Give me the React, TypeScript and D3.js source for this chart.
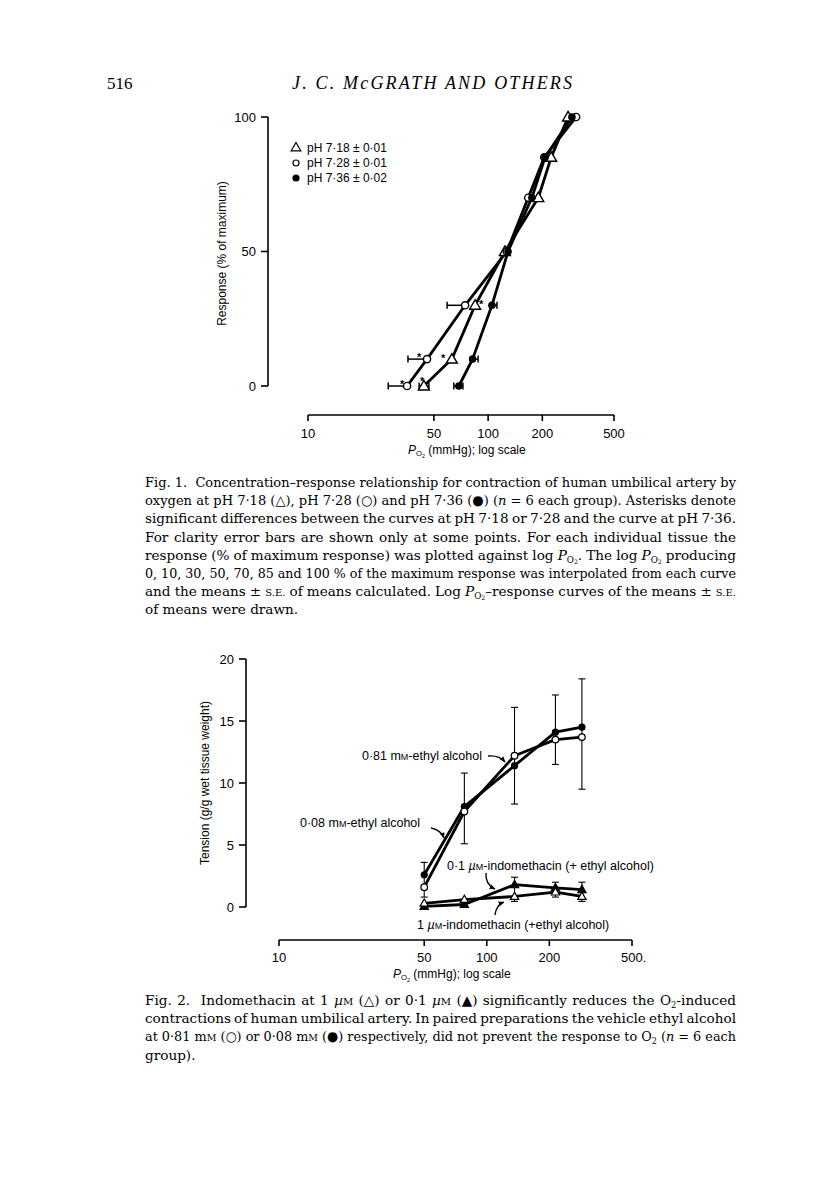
import React, { useLayoutEffect, useRef } from 'react';
import * as d3 from 'd3';

// ---------------- Fig. 1 data ----------------
const RESPONSE_LEVELS = [0, 10, 30, 50, 70, 85, 100];
const PH718_LABEL = 'pH 7·18 ± 0·01';
const PH728_LABEL = 'pH 7·28 ± 0·01';
const PH736_LABEL = 'pH 7·36 ± 0·02';
const PH718_PO2 = [44.0, 62.9, 84.7, 124, 190, 224, 278];
const PH728_PO2 = [35.5, 45.8, 74.5, 127, 167, 205, 308];
const PH736_PO2 = [68.8, 82, 105, 129, 175, 207, 292];
const PH718_ERR_LO: (number | null)[] = [41.4, null, null, null, null, null, null];
const PH718_ERR_HI: (number | null)[] = [46.9, null, null, null, null, null, null];
const PH728_ERR_LO: (number | null)[] = [27.9, 35.9, 59.2, null, null, null, null];
const PH728_ERR_HI: (number | null)[] = [null, null, null, null, null, null, null];
const PH736_ERR_LO: (number | null)[] = [64.5, null, null, null, null, null, null];
const PH736_ERR_HI: (number | null)[] = [72.5, 88, 112, null, null, null, null];
const ASTERISK_PO2 = [33.3, 43.0, 41.4, 56.2, 91.4];
const ASTERISK_RESP = [1.5, 2.6, 11.5, 11.2, 31.2];
const FIG1_Y_TICKS = [0, 50, 100];
const LOG_TICKS = [10, 50, 100, 200, 500];
const FIG1_X_TICK_LABELS = ['10', '50', '100', '200', '500'];

// ---------------- Fig. 2 data ----------------
const FIG2_PO2 = [50, 78, 136, 214, 287];
const ETOH_081 = [1.6, 7.7, 12.2, 13.5, 13.7];
const ETOH_008 = [2.6, 8.1, 11.4, 14.1, 14.5];
const ETOH_ERR_HI = [3.6, 10.8, 16.1, 17.1, 18.4];
const ETOH_ERR_LO = [0.8, 5.1, 8.3, 11.5, 9.5];
const INDO_1 = [0.3, 0.6, 0.85, 1.2, 0.85];
const INDO_01 = [0.05, 0.2, 1.8, 1.55, 1.4];
const INDO_ERR_HI: (number | null)[] = [null, null, 2.4, 2.0, 2.0];
const INDO_ERR_LO: (number | null)[] = [null, null, 0.45, 0.8, 0.45];
const FIG2_Y_TICKS = [0, 5, 10, 15, 20];
const FIG2_X_TICK_LABELS = ['10', '50', '100', '200', '500.'];
// annotation arrow tips in data units [PO2, tension]
const ANNOT_TIP_PO2 = [122.4, 62.2, 109.4, 121];
const ANNOT_TIP_TENSION = [11.7, 5.56, 1.45, 0.4];

const SANS = '"Liberation Sans", Arial, Helvetica, sans-serif';
const SERIF = '"Liberation Serif", "Times New Roman", serif';
const CAP_SERIF = '"DejaVu Serif", "Liberation Serif", serif';
const CAP_FS = 13.6;
const CAP_X = 145;
const CAP_W = 591;

type Seg = { t: string; sh?: number; fs?: number; it?: boolean };
const T = (t: string): Seg => ({ t });
const I = (t: string): Seg => ({ t, it: true });
const SC = (t: string, fs = 10): Seg => ({ t, fs });
const PO2 = (fs: number): Seg[] => [
  { t: 'P', it: true },
  { t: 'O', sh: fs * 0.2, fs: fs * 0.64 },
  { t: '2', sh: fs * 0.3, fs: fs * 0.45 },
];
const O2 = (fs: number): Seg[] => [{ t: 'O' }, { t: '2', sh: fs * 0.2, fs: fs * 0.62 }];

function Segs({ segs }: { segs: Seg[] }) {
  let cur = 0;
  return (
    <>
      {segs.map((s, i) => {
        const sh = s.sh || 0;
        const dy = sh - cur;
        cur = sh;
        return (
          <tspan key={i} dy={dy !== 0 ? dy : undefined} fontSize={s.fs} fontStyle={s.it ? 'italic' : undefined}>
            {s.t}
          </tspan>
        );
      })}
    </>
  );
}

const FIG1_CAPTION: Seg[][] = [
  [T('Fig. 1.  Concentration–response relationship for contraction of human umbilical artery by')],
  [T('oxygen at pH 7·18 (△), pH 7·28 (○) and pH 7·36 (●) ('), I('n'), T(' = 6 each group). Asterisks denote')],
  [T('significant differences between the curves at pH 7·18 or 7·28 and the curve at pH 7·36.')],
  [T('For clarity error bars are shown only at some points. For each individual tissue the')],
  [T('response (% of maximum response) was plotted against log '), ...PO2(CAP_FS), T('. The log '), ...PO2(CAP_FS), T(' producing')],
  [T('0, 10, 30, 50, 70, 85 and 100 % of the maximum response was interpolated from each curve')],
  [T('and the means ± '), SC('S.E.'), T(' of means calculated. Log '), ...PO2(CAP_FS), T('–response curves of the means ± '), SC('S.E.')],
  [T('of means were drawn.')],
];
const FIG2_CAPTION: Seg[][] = [
  [T('Fig. 2.  Indomethacin at 1 '), I('µ'), SC('M'), T(' (△) or 0·1 '), I('µ'), SC('M'), T(' (▲) significantly reduces the '), ...O2(CAP_FS), T('-induced')],
  [T('contractions of human umbilical artery. In paired preparations the vehicle ethyl alcohol')],
  [T('at 0·81 m'), SC('M'), T(' (○) or 0·08 m'), SC('M'), T(' (●) respectively, did not prevent the response to '), ...O2(CAP_FS), T(' ('), I('n'), T(' = 6 each')],
  [T('group).')],
];

const tri = (size: number) => d3.symbol().type(d3.symbolTriangle).size(size)() as string;

export default function App() {
  const W = 816;
  const H = 1181;
  const svgRef = useRef<SVGSVGElement>(null);

  // justify caption lines by word spacing (like the printed page)
  useLayoutEffect(() => {
    if (!svgRef.current) return;
    d3.select(svgRef.current)
      .selectAll<SVGTextElement, unknown>('text.just')
      .each(function () {
        const el = this;
        el.removeAttribute('word-spacing');
        el.removeAttribute('textLength');
        const len = el.getComputedTextLength();
        const spaces = (el.textContent || '').split(' ').length - 1;
        const ws = spaces > 0 ? (CAP_W - len) / spaces : 0;
        if (ws >= -1.2) {
          el.setAttribute('word-spacing', String(ws));
        } else {
          el.setAttribute('textLength', String(CAP_W));
          el.setAttribute('lengthAdjust', 'spacingAndGlyphs');
        }
      });
  }, []);

  // Fig 1 scales
  const x1 = d3.scaleLog().domain([10, 500]).range([308, 614]);
  const y1 = d3.scaleLinear().domain([0, 100]).range([386, 117]);
  const axisX1 = 268;
  const axisY1 = 415;

  // Fig 2 scales
  const x2 = d3.scaleLog().domain([10, 500]).range([279, 632]);
  const y2 = d3.scaleLinear().domain([0, 20]).range([907, 659]);
  const axisX2 = 246;
  const axisY2 = 940;

  const line1 = d3
    .line<[number, number]>()
    .x((d) => x1(d[0]))
    .y((d) => y1(d[1]));
  const line2 = d3
    .line<[number, number]>()
    .x((d) => x2(d[0]))
    .y((d) => y2(d[1]));

  const fig1Series = [
    { po2: PH718_PO2, lo: PH718_ERR_LO, hi: PH718_ERR_HI, kind: 'tri' },
    { po2: PH728_PO2, lo: PH728_ERR_LO, hi: PH728_ERR_HI, kind: 'open' },
    { po2: PH736_PO2, lo: PH736_ERR_LO, hi: PH736_ERR_HI, kind: 'filled' },
  ];

  const triPath1 = tri(52);
  const triPath2 = tri(30);

  const marker1 = (kind: string, cx: number, cy: number, key: string) => {
    if (kind === 'tri')
      return <path key={key} d={triPath1} transform={`translate(${cx},${cy + 0.8})`} fill="#fff" stroke="#000" strokeWidth={1.4} />;
    if (kind === 'open') return <circle key={key} cx={cx} cy={cy} r={3.6} fill="#fff" stroke="#000" strokeWidth={1.4} />;
    return <circle key={key} cx={cx} cy={cy} r={3.8} fill="#000" />;
  };

  const fig2Circles = [
    { vals: ETOH_008, filled: true },
    { vals: ETOH_081, filled: false },
  ];
  const fig2Tris = [
    { vals: INDO_01, filled: true },
    { vals: INDO_1, filled: false },
  ];

  const annotations = [
    { text: [T('0·81 m'), SC('M', 9), T('-ethyl alcohol')], tx: 482, ty: 760, anchor: 'end', from: [488, 756], ctrl: [499, 755] },
    { text: [T('0·08 m'), SC('M', 9), T('-ethyl alcohol')], tx: 300, ty: 827, anchor: 'start', from: [431, 828], ctrl: [441, 830] },
    { text: [T('0·1 '), I('µ'), SC('M', 9), T('-indomethacin (+ ethyl alcohol)')], tx: 447, ty: 870, anchor: 'start', from: [486, 873], ctrl: [485, 884] },
    { text: [T('1 '), I('µ'), SC('M', 9), T('-indomethacin (+ethyl alcohol)')], tx: 417, ty: 929, anchor: 'start', from: [495, 915], ctrl: [496, 905] },
  ];

  return (
    <svg ref={svgRef} width={W} height={H} viewBox={`0 0 ${W} ${H}`} style={{ position: 'absolute', left: 0, top: 0, background: '#fff' }}>
      <defs>
        <marker id="ah" viewBox="0 0 10 10" refX="9" refY="5" markerWidth="6" markerHeight="6" orient="auto" markerUnits="userSpaceOnUse">
          <path d="M0,1 L10,5 L0,9 Z" fill="#000" />
        </marker>
      </defs>
      <rect x={0} y={0} width={W} height={H} fill="#fff" />

      {/* page header */}
      <text x={107} y={89} fontFamily={SERIF} fontSize={17}>516</text>
      <text x={292} y={89} fontFamily={SERIF} fontSize={18} fontStyle="italic" textLength={280} lengthAdjust="spacing">
        J. C. McGRATH AND OTHERS
      </text>

      {/* ================= Fig. 1 ================= */}
      <g fontFamily={SANS}>
        <line x1={axisX1} x2={axisX1} y1={y1(100)} y2={y1(0)} stroke="#000" strokeWidth={1.6} />
        {FIG1_Y_TICKS.map((t) => (
          <g key={t}>
            <line x1={axisX1 - 7} x2={axisX1} y1={y1(t)} y2={y1(t)} stroke="#000" strokeWidth={1.6} />
            <text x={axisX1 - 12} y={y1(t) + 4.5} textAnchor="end" fontSize={13}>{t}</text>
          </g>
        ))}
        <text transform={`translate(226,${(y1(0) + y1(100)) / 2 + 2}) rotate(-90)`} textAnchor="middle" fontSize={12}>
          Response (% of maximum)
        </text>

        <line x1={x1(10)} x2={x1(500)} y1={axisY1} y2={axisY1} stroke="#000" strokeWidth={1.6} />
        {LOG_TICKS.map((t, i) => (
          <g key={t}>
            <line x1={x1(t)} x2={x1(t)} y1={axisY1} y2={axisY1 + 6} stroke="#000" strokeWidth={1.6} />
            <text x={x1(t)} y={axisY1 + 23} textAnchor="middle" fontSize={13}>{FIG1_X_TICK_LABELS[i]}</text>
          </g>
        ))}
        <text x={x1(10) + 100} y={axisY1 + 39} fontSize={12}>
          <Segs segs={[...PO2(12), T(' (mmHg); log scale')]} />
        </text>

        {/* legend */}
        <path d={tri(40)} transform={`translate(296,148)`} fill="#fff" stroke="#000" strokeWidth={1.2} />
        <text x={307} y={151.5} fontSize={12}>{PH718_LABEL}</text>
        <circle cx={296} cy={163} r={3} fill="#fff" stroke="#000" strokeWidth={1.2} />
        <text x={307} y={167} fontSize={12}>{PH728_LABEL}</text>
        <circle cx={296} cy={178} r={3.6} fill="#000" />
        <text x={307} y={182} fontSize={12}>{PH736_LABEL}</text>

        {/* error bars */}
        {fig1Series.map((s, si) =>
          RESPONSE_LEVELS.map((r, i) => {
            const lo = s.lo[i];
            const hi = s.hi[i];
            if (lo == null && hi == null) return null;
            const a = x1(lo ?? s.po2[i]);
            const b = x1(hi ?? s.po2[i]);
            const y = y1(r);
            return (
              <g key={`e${si}-${i}`} stroke="#000" strokeWidth={1.5}>
                <line x1={a} x2={b} y1={y} y2={y} />
                {lo != null && <line x1={a} x2={a} y1={y - 3.5} y2={y + 3.5} />}
                {hi != null && <line x1={b} x2={b} y1={y - 3.5} y2={y + 3.5} />}
              </g>
            );
          })
        )}

        {/* curves */}
        {fig1Series.map((s, si) => (
          <path
            key={`l${si}`}
            d={line1(s.po2.map((p, i) => [p, RESPONSE_LEVELS[i]] as [number, number])) || ''}
            fill="none"
            stroke="#000"
            strokeWidth={2.8}
            strokeLinejoin="round"
          />
        ))}
        {fig1Series.map((s, si) => s.po2.map((p, i) => marker1(s.kind, x1(p), y1(RESPONSE_LEVELS[i]), `m${si}-${i}`)))}

        {/* asterisks */}
        {ASTERISK_PO2.map((p, i) => (
          <text key={`a${i}`} x={x1(p)} y={y1(ASTERISK_RESP[i]) + 6} textAnchor="middle" fontSize={11} fontWeight="bold">
            *
          </text>
        ))}
      </g>

      {/* Fig. 1 caption */}
      <g fontFamily={CAP_SERIF} fontSize={CAP_FS}>
        {FIG1_CAPTION.map((segs, i) => (
          <text key={`c1-${i}`} className={i < FIG1_CAPTION.length - 1 ? 'just' : undefined} x={CAP_X} y={487 + i * 18.2} style={{ whiteSpace: 'pre' }}>
            <Segs segs={segs} />
          </text>
        ))}
      </g>

      {/* ================= Fig. 2 ================= */}
      <g fontFamily={SANS}>
        <line x1={axisX2} x2={axisX2} y1={y2(20)} y2={y2(0)} stroke="#000" strokeWidth={1.6} />
        {FIG2_Y_TICKS.map((t) => (
          <g key={t}>
            <line x1={axisX2 - 7} x2={axisX2} y1={y2(t)} y2={y2(t)} stroke="#000" strokeWidth={1.6} />
            <text x={axisX2 - 12} y={y2(t) + 4.5} textAnchor="end" fontSize={13}>{t}</text>
          </g>
        ))}
        <text transform={`translate(209,${(y2(0) + y2(20)) / 2}) rotate(-90)`} textAnchor="middle" fontSize={12}>
          Tension (g/g wet tissue weight)
        </text>

        <line x1={x2(10)} x2={x2(500)} y1={axisY2} y2={axisY2} stroke="#000" strokeWidth={1.6} />
        {LOG_TICKS.map((t, i) => (
          <g key={t}>
            <line x1={x2(t)} x2={x2(t)} y1={axisY2} y2={axisY2 + 6} stroke="#000" strokeWidth={1.6} />
            <text x={x2(t)} y={axisY2 + 22} textAnchor={i === 4 ? 'start' : 'middle'} dx={i === 4 ? -11 : 0} fontSize={13}>
              {FIG2_X_TICK_LABELS[i]}
            </text>
          </g>
        ))}
        <text x={393} y={axisY2 + 38} fontSize={12}>
          <Segs segs={[...PO2(12), T(' (mmHg); log scale')]} />
        </text>

        {/* error bars (ethanol curves) */}
        {FIG2_PO2.map((p, i) => {
          const x = x2(p);
          return (
            <g key={`ee${i}`} stroke="#000" strokeWidth={1.1}>
              <line x1={x} x2={x} y1={y2(ETOH_ERR_LO[i])} y2={y2(ETOH_ERR_HI[i])} />
              <line x1={x - 3.5} x2={x + 3.5} y1={y2(ETOH_ERR_LO[i])} y2={y2(ETOH_ERR_LO[i])} />
              <line x1={x - 3.5} x2={x + 3.5} y1={y2(ETOH_ERR_HI[i])} y2={y2(ETOH_ERR_HI[i])} />
            </g>
          );
        })}
        {FIG2_PO2.map((p, i) => {
          const hi = INDO_ERR_HI[i];
          const lo = INDO_ERR_LO[i];
          if (hi == null || lo == null) return null;
          const x = x2(p);
          return (
            <g key={`ie${i}`} stroke="#000" strokeWidth={1.1}>
              <line x1={x} x2={x} y1={y2(lo)} y2={y2(hi)} />
              <line x1={x - 3.5} x2={x + 3.5} y1={y2(lo)} y2={y2(lo)} />
              <line x1={x - 3.5} x2={x + 3.5} y1={y2(hi)} y2={y2(hi)} />
            </g>
          );
        })}

        {/* curves */}
        {[...fig2Circles, ...fig2Tris].map((s, si) => (
          <path
            key={`l2-${si}`}
            d={line2(FIG2_PO2.map((p, i) => [p, s.vals[i]] as [number, number])) || ''}
            fill="none"
            stroke="#000"
            strokeWidth={2.8}
            strokeLinejoin="round"
          />
        ))}
        {fig2Circles.map((s, si) =>
          FIG2_PO2.map((p, i) => (
            <circle
              key={`c2-${si}-${i}`}
              cx={x2(p)}
              cy={y2(s.vals[i])}
              r={s.filled ? 3.6 : 3.3}
              fill={s.filled ? '#000' : '#fff'}
              stroke="#000"
              strokeWidth={s.filled ? 0 : 1.3}
            />
          ))
        )}
        {fig2Tris.map((s, si) =>
          FIG2_PO2.map((p, i) => (
            <path
              key={`t2-${si}-${i}`}
              d={triPath2}
              transform={`translate(${x2(p)},${y2(s.vals[i]) + 0.5})`}
              fill={s.filled ? '#000' : '#fff'}
              stroke="#000"
              strokeWidth={1.2}
            />
          ))
        )}

        {/* annotations */}
        {annotations.map((a, i) => {
          const tip = [x2(ANNOT_TIP_PO2[i]), y2(ANNOT_TIP_TENSION[i])];
          return (
            <g key={`an${i}`}>
              <text x={a.tx} y={a.ty} textAnchor={a.anchor as any} fontSize={12.5}>
                <Segs segs={a.text} />
              </text>
              <path
                d={`M${a.from[0]},${a.from[1]} Q${a.ctrl[0]},${a.ctrl[1]} ${tip[0]},${tip[1]}`}
                fill="none"
                stroke="#000"
                strokeWidth={1.4}
                markerEnd="url(#ah)"
              />
            </g>
          );
        })}
      </g>

      {/* Fig. 2 caption */}
      <g fontFamily={CAP_SERIF} fontSize={CAP_FS}>
        {FIG2_CAPTION.map((segs, i) => (
          <text key={`c2-${i}`} className={i < FIG2_CAPTION.length - 1 ? 'just' : undefined} x={CAP_X} y={1005 + i * 18.2} style={{ whiteSpace: 'pre' }}>
            <Segs segs={segs} />
          </text>
        ))}
      </g>
    </svg>
  );
}
